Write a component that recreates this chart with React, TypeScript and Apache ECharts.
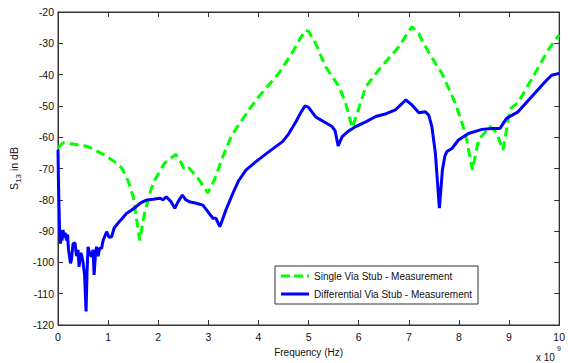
import React, { useEffect, useRef } from "react";
import * as echarts from "echarts";

const singleFreq = [0, 0.1, 0.3, 0.6, 0.93, 1.1, 1.27, 1.4, 1.5, 1.63, 1.73, 1.85, 1.93, 2.13, 2.35, 2.46, 2.52, 2.62, 2.82, 2.99, 3.12, 3.29, 3.45, 3.58, 3.95, 4.41, 4.67, 4.85, 4.94, 5.0, 5.14, 5.34, 5.61, 5.74, 5.87, 5.97, 6.14, 6.4, 6.8, 7.06, 7.2, 7.26, 7.53, 7.66, 7.93, 8.13, 8.27, 8.39, 8.62, 8.75, 8.88, 9.02, 9.18, 9.52, 9.78, 10];
const singleDb = [-63.5, -61.8, -62.2, -63, -65.7, -67.5, -69.8, -74, -79, -93, -84, -77, -73.7, -68.2, -65.5, -68.2, -70.5, -69.9, -73.7, -77.8, -73.7, -66.2, -60, -56.6, -48.1, -39.5, -33.1, -28, -25.8, -26.2, -30, -37.5, -43.9, -49.1, -57, -52.3, -43.9, -38.5, -31.1, -24.7, -26.8, -29, -36.4, -39.6, -49.2, -58.8, -70.5, -60.9, -56.6, -58.5, -64.1, -51, -48.9, -39.6, -32.1, -27.3];

const diffFreq = [0, 0.01, 0.03, 0.05, 0.06, 0.08, 0.1, 0.12, 0.14, 0.17, 0.19, 0.21, 0.25, 0.27, 0.3, 0.34, 0.37, 0.4, 0.42, 0.45, 0.47, 0.5, 0.53, 0.56, 0.58, 0.6, 0.63, 0.67, 0.7, 0.72, 0.75, 0.77, 0.8, 0.83, 0.87, 0.9, 0.97, 1.02, 1.07, 1.12, 1.17, 1.25, 1.37, 1.45, 1.56, 1.65, 1.76, 1.9, 2.03, 2.1, 2.16, 2.25, 2.33, 2.4, 2.48, 2.55, 2.62, 2.76, 2.89, 2.99, 3.09, 3.15, 3.23, 3.35, 3.49, 3.6, 3.75, 3.95, 4.21, 4.48, 4.6, 4.75, 4.85, 4.93, 5.0, 5.14, 5.34, 5.47, 5.53, 5.59, 5.67, 5.8, 5.94, 6.15, 6.34, 6.55, 6.73, 6.94, 7.05, 7.2, 7.33, 7.4, 7.46, 7.53, 7.61, 7.67, 7.72, 7.76, 7.86, 7.99, 8.19, 8.46, 8.65, 8.82, 8.95, 9.18, 9.45, 9.72, 9.85, 10];
const diffDb = [-64, -75, -89, -94, -90, -93, -89.6, -92, -90.5, -93, -91, -96, -100.3, -99, -94, -93.8, -98, -96, -101.4, -97, -97.6, -100, -104, -115.7, -103, -95, -97, -98.2, -96, -104, -97, -95, -98, -95.5, -95.5, -93, -90.2, -92, -91.8, -89, -88, -86.5, -84.3, -83.5, -82.2, -81, -80.1, -79.8, -79.5, -80, -79, -80.5, -82.7, -80.5, -78.5, -80, -80.6, -81.1, -81.7, -83.8, -85.9, -85.9, -88.6, -83.3, -77.9, -74, -70.5, -67.8, -64.6, -61.4, -59, -55, -52, -50, -50.5, -53.5, -55.4, -56.6, -58, -62.8, -59.8, -58, -56.6, -55, -53.4, -52.5, -51.3, -48.1, -49.5, -52.2, -51.9, -53, -56.6, -65.1, -82.7, -70.5, -66, -64.6, -63.6, -60.9, -58.8, -57.5, -57.2, -57.2, -54, -51.9, -47.1, -42.3, -40.2, -39.6];

const seriesNames = ["Single Via Stub - Measurement", "Differential Via Stub - Measurement"];
const FONT = "'Liberation Sans', Arial, sans-serif";

export default function App() {
  const ref = useRef<HTMLDivElement>(null);
  useEffect(() => {
    if (!ref.current) return;
    const chart = echarts.init(ref.current, undefined, { renderer: "svg" });
    const axisColor = "#333";
    const tickStyle = { show: true, inside: true, length: 5, lineStyle: { color: axisColor } };
    chart.setOption({
      animation: false,
      backgroundColor: "#fff",
      textStyle: { fontFamily: FONT },
      grid: { left: 58, right: 7, top: 12, bottom: 38, show: true, borderColor: axisColor, borderWidth: 1 },
      legend: {
        show: true,
        orient: "vertical",
        left: 275,
        top: 266,
        padding: [5, 6, 5, 6],
        itemGap: 8,
        itemWidth: 28,
        itemHeight: 3,
        borderColor: "#333",
        borderWidth: 1,
        backgroundColor: "#fff",
        borderRadius: 0,
        textStyle: { fontFamily: FONT, fontSize: 10, color: "#111", padding: [0, 0, 0, 0] },
        data: [
          { name: seriesNames[0], icon: "path://M0,0h9v3h-9z M13,0h9v3h-9z M26,0h2v3h-2z", itemStyle: { color: "#00ff00" } },
          { name: seriesNames[1], icon: "rect", itemStyle: { color: "#0000ff" } },
        ],
      },
      xAxis: [
        {
          type: "value", min: 0, max: 10, interval: 1,
          name: "Frequency (Hz)", nameLocation: "middle", nameGap: 22,
          nameTextStyle: { fontFamily: FONT, fontSize: 10, color: "#111" },
          axisLine: { show: true, onZero: false, lineStyle: { color: axisColor } },
          axisTick: tickStyle,
          axisLabel: { fontFamily: FONT, fontSize: 10.5, color: "#111", margin: 6 },
          splitLine: { show: false },
        },
        {
          type: "value", min: 0, max: 10, interval: 1, position: "top",
          axisLine: { show: true, onZero: false, lineStyle: { color: axisColor } },
          axisTick: tickStyle, axisLabel: { show: false }, splitLine: { show: false },
        },
      ],
      yAxis: [
        {
          type: "value", min: -120, max: -20, interval: 10,
          name: "{s|S}{sub|13}{s| in dB}", nameLocation: "middle", nameGap: 31,
          nameTextStyle: {
            fontFamily: FONT, color: "#111",
            rich: {
              s: { fontFamily: FONT, fontSize: 10.5, lineHeight: 16, verticalAlign: "middle", color: "#111" },
              sub: { fontFamily: FONT, fontSize: 8, lineHeight: 16, verticalAlign: "bottom", color: "#111" },
            },
          },
          axisLine: { show: true, onZero: false, lineStyle: { color: axisColor } },
          axisTick: tickStyle,
          axisLabel: { fontFamily: FONT, fontSize: 10.5, color: "#111", margin: 4 },
          splitLine: { show: false },
        },
        {
          type: "value", min: -120, max: -20, interval: 10, position: "right",
          axisLine: { show: true, onZero: false, lineStyle: { color: axisColor } },
          axisTick: tickStyle, axisLabel: { show: false }, splitLine: { show: false },
        },
      ],
      graphic: [
        { type: "text", left: 536, top: 352, style: { text: "x 10", font: `10px ${FONT}`, fill: "#111" } },
        { type: "text", left: 557, top: 345, style: { text: "9", font: `7px ${FONT}`, fill: "#111" } },
      ],
      series: [
        {
          name: seriesNames[0], type: "line", showSymbol: false, symbol: "none",
          data: singleFreq.map((f, i) => [f, singleDb[i]]),
          lineStyle: { color: "#00ff00", width: 3, type: [9, 5] },
          itemStyle: { color: "#00ff00" },
        },
        {
          name: seriesNames[1], type: "line", showSymbol: false, symbol: "none",
          data: diffFreq.map((f, i) => [f, diffDb[i]]),
          lineStyle: { color: "#0000ff", width: 3 },
          itemStyle: { color: "#0000ff" },
        },
      ],
    });
    return () => chart.dispose();
  }, []);
  return <div ref={ref} style={{ width: 568, height: 363, position: "absolute", left: 0, top: 0 }} />;
}
